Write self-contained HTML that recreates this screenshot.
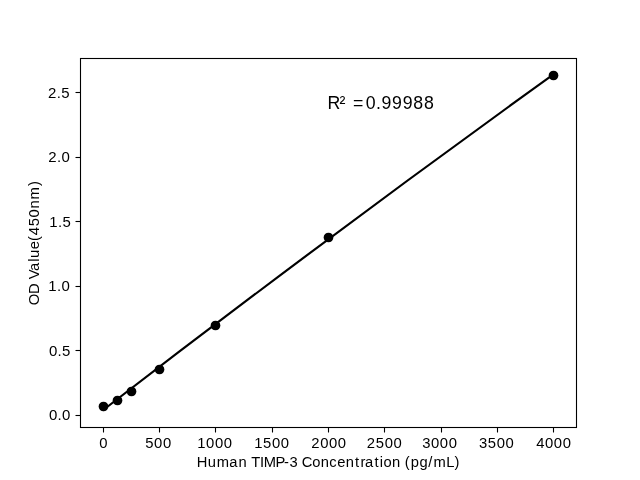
<!DOCTYPE html>
<html><head><meta charset="utf-8"><style>
html,body{margin:0;padding:0;background:#fff;overflow:hidden;}
svg{display:block;font-family:"Liberation Sans",sans-serif;filter:grayscale(1);}
</style></head><body>
<svg width="640" height="480" viewBox="0 0 640 480">
<rect width="640" height="480" fill="#fff"/>
<g stroke="#000" stroke-width="1.1" fill="none">
<rect x="80.5" y="58.5" width="496" height="369"/>
<line x1="103.5" y1="427.5" x2="103.5" y2="432.5"/><line x1="159.5" y1="427.5" x2="159.5" y2="432.5"/><line x1="215.5" y1="427.5" x2="215.5" y2="432.5"/><line x1="272.5" y1="427.5" x2="272.5" y2="432.5"/><line x1="328.5" y1="427.5" x2="328.5" y2="432.5"/><line x1="384.5" y1="427.5" x2="384.5" y2="432.5"/><line x1="441.5" y1="427.5" x2="441.5" y2="432.5"/><line x1="497.5" y1="427.5" x2="497.5" y2="432.5"/><line x1="553.5" y1="427.5" x2="553.5" y2="432.5"/><line x1="75.5" y1="415.5" x2="80.5" y2="415.5"/><line x1="75.5" y1="350.5" x2="80.5" y2="350.5"/><line x1="75.5" y1="286.5" x2="80.5" y2="286.5"/><line x1="75.5" y1="221.5" x2="80.5" y2="221.5"/><line x1="75.5" y1="157.5" x2="80.5" y2="157.5"/><line x1="75.5" y1="92.5" x2="80.5" y2="92.5"/>
</g>
<path d="M102.545,410.505 Q328.000,236.582 553.455,74.398" stroke="#000" stroke-width="2.18" fill="none" stroke-linejoin="round"/>
<g fill="#000"><circle cx="103.5" cy="406.5" r="4.86"/><circle cx="117.5" cy="400.5" r="4.86"/><circle cx="131.5" cy="391.5" r="4.86"/><circle cx="159.5" cy="369.5" r="4.86"/><circle cx="215.5" cy="325.5" r="4.86"/><circle cx="328.5" cy="237.5" r="4.86"/><circle cx="553.5" cy="75.5" r="4.86"/></g>
<text transform="translate(98.93,447.50) scale(0.98,1)" x="0.30" y="0" font-size="15.139" fill="#000">0</text>
<text transform="translate(144.98,447.50) scale(0.98,1)" x="0.24 9.31 18.33" y="0" font-size="15.139" fill="#000">500</text>
<text transform="translate(197.00,447.50) scale(0.98,1)" x="0.22 9.31 18.33 27.35" y="0" font-size="15.139" fill="#000">1000</text>
<text transform="translate(253.96,447.50) scale(0.98,1)" x="0.22 9.26 18.33 27.35" y="0" font-size="15.139" fill="#000">1500</text>
<text transform="translate(311.08,447.50) scale(0.98,1)" x="0.11 9.31 18.33 27.35" y="0" font-size="15.139" fill="#000">2000</text>
<text transform="translate(366.74,447.50) scale(0.98,1)" x="0.11 9.26 18.33 27.35" y="0" font-size="15.139" fill="#000">2500</text>
<text transform="translate(421.89,447.50) scale(0.98,1)" x="0.32 9.31 18.33 27.35" y="0" font-size="15.139" fill="#000">3000</text>
<text transform="translate(478.75,447.50) scale(0.98,1)" x="0.32 9.26 18.33 27.35" y="0" font-size="15.139" fill="#000">3500</text>
<text transform="translate(535.90,447.50) scale(0.98,1)" x="0.29 9.31 18.33 27.35" y="0" font-size="15.139" fill="#000">4000</text>
<text transform="translate(48.63,419.89) scale(1.008,1)" x="0.25 8.89 13.39" y="0" font-size="14.861" fill="#000">0.0</text>
<text transform="translate(48.63,355.80) scale(1.008,1)" x="0.25 8.89 13.34" y="0" font-size="14.861" fill="#000">0.5</text>
<text transform="translate(48.03,290.82) scale(1.008,1)" x="0.17 8.89 13.39" y="0" font-size="14.861" fill="#000">1.0</text>
<text transform="translate(49.03,226.83) scale(1.008,1)" x="0.17 8.89 13.34" y="0" font-size="14.861" fill="#000">1.5</text>
<text transform="translate(48.13,161.85) scale(1.008,1)" x="0.07 8.89 13.39" y="0" font-size="14.861" fill="#000">2.0</text>
<text transform="translate(47.83,97.86) scale(1.008,1)" x="0.07 8.89 13.34" y="0" font-size="14.861" fill="#000">2.5</text>
<text transform="translate(196.93,466.50) scale(1.0,1)" x="-0.10 10.72 19.92 32.41 41.62 50.09 54.25 62.99 66.95 78.57 87.19 92.48 100.98 104.85 115.25 123.93 132.36 140.24 148.91 158.02 163.49 168.17 177.68 182.79 186.51 195.18 203.65 207.95 213.88 222.53 231.41 236.46 249.38 257.69" y="0" font-size="14.722" fill="#000">Human TIMP-3 Concentration (pg/mL)</text>
<text transform="translate(38.50,305.02) rotate(-90) scale(1.008,1)" x="-0.30 10.85 21.46 25.63 33.80 42.92 46.71 55.37 63.54 69.34 78.05 86.87 95.65 104.70 118.11" y="0" font-size="14.722" fill="#000">OD Value(450nm)</text>
<text transform="translate(327.76,108.50) scale(0.98,1)" x="-0.35 12.06 18.63 25.89 38.67 49.29 54.84 65.66 76.48 87.36 98.18" y="0" font-size="18.084" fill="#000">R² =0.99988</text>
</svg>
</body></html>
